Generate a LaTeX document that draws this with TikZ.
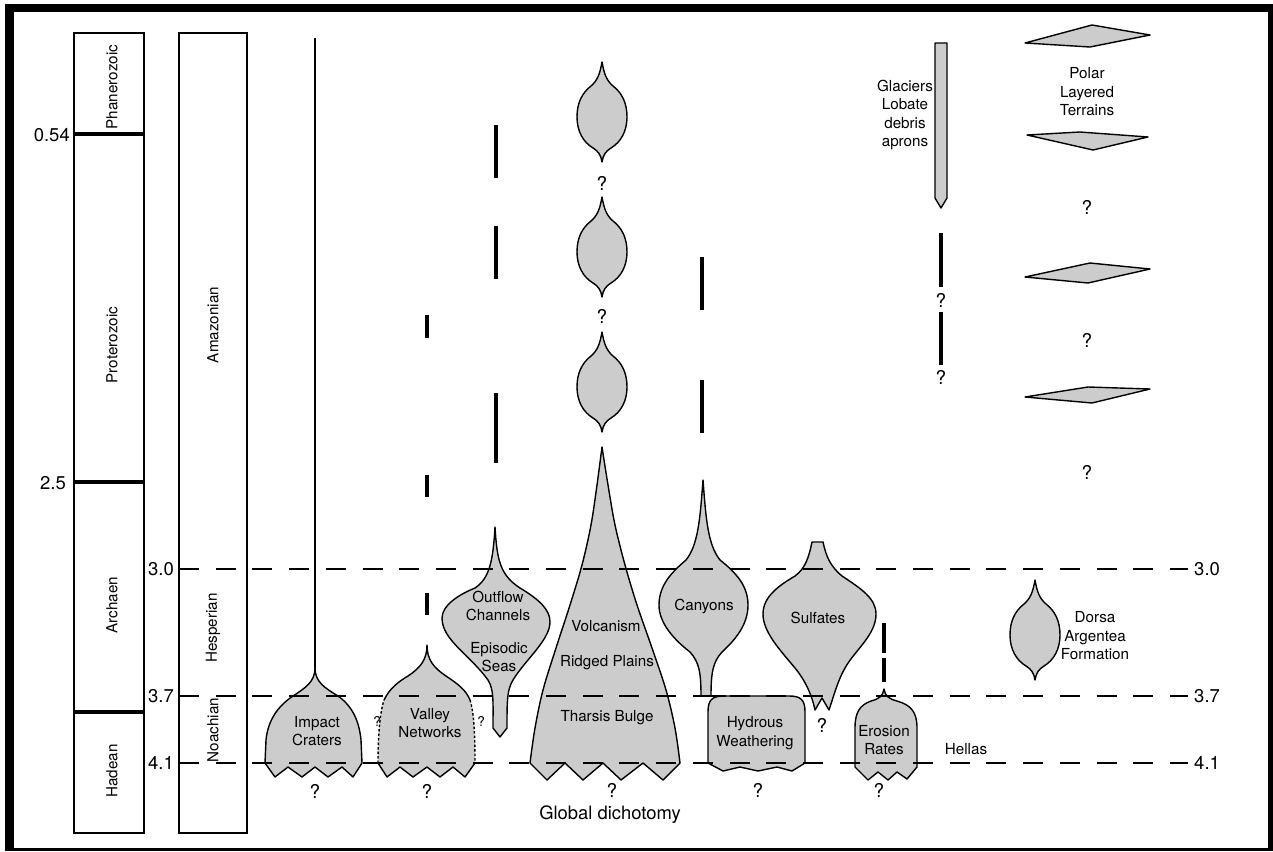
\documentclass[tikz,border=0pt]{standalone}
\usepackage{fontspec}
\setmainfont{TeX Gyre Heros}
\definecolor{gfill}{RGB}{204,204,204}
\begin{document}
\begin{tikzpicture}[x=1pt,y=-1pt,
  blob/.style={fill=gfill,draw=black,line width=1.4pt,line join=round},
  colbox/.style={draw=black,line width=1.5pt},
  era/.style={line width=3.3pt},
  ticklbl/.style={font=\fontsize{18.5}{20}\selectfont,inner sep=0pt},
  lbl/.style={font=\fontsize{15.2}{18.5}\selectfont,align=center,inner sep=0pt},
  rot/.style={lbl,rotate=90},
  qm/.style={font=\fontsize{19}{20}\selectfont,inner sep=0pt},
  sqm/.style={font=\fontsize{13.5}{14}\selectfont,inner sep=0pt},
  agedash/.style={line width=1.8pt,dash pattern=on 20pt off 16.7pt},
  vbar/.style={line width=3.5pt},
  lemon/.pic={\filldraw[blob] (0,0) .. controls (2,11) and (4,18) .. (11,24)
     .. controls (20,31) and (25,41) .. (25,55)
     .. controls (25,69) and (19,80) .. (9,86)
     .. controls (4,89) and (1,93) .. (0,100)
     .. controls (-1,93) and (-4,89) .. (-9,86)
     .. controls (-19,80) and (-25,69) .. (-25,55)
     .. controls (-25,41) and (-20,31) .. (-11,24)
     .. controls (-4,18) and (-2,11) .. (0,0) -- cycle;},
]
\useasboundingbox (0,0) rectangle (1273,851);
\fill[white] (0,0) rectangle (1273,851);
% frame
\fill[black] (5,4) rectangle (1273,12);
\fill[black] (5,4) rectangle (14,850);
\fill[black] (1268,4) rectangle (1273,850);
\fill[black] (5,848) rectangle (1273,850.5);

% Earth column
\draw[colbox] (74,33) rectangle (144,833);
\draw[era] (74,134) -- (144,134);
\draw[era] (74,482) -- (144,482);
\draw[era] (74,712) -- (144,712);
\node[rot] (phan) at (112,87) {Phanerozoic};
\node[rot] (prot) at (112,345) {Proterozoic};
\node[rot] (arch) at (112,605) {Archaen};
\node[rot] (hade) at (112,771) {Hadean};
\node[ticklbl,anchor=east] (t054) at (70,135) {0.54};
\node[ticklbl,anchor=east] (t25) at (66,483) {2.5};

% Mars column
\draw[colbox] (179,33) rectangle (247,833);
\node[rot] (amaz) at (213,325) {Amazonian};
\node[rot] (hesp) at (213,628) {Hesperian};
\node[rot] (noac) at (213,730) {Noachian};
\node[ticklbl,anchor=east] (l30) at (174,569) {3.0};
\node[ticklbl,anchor=east] (l37) at (174,696) {3.7};
\node[ticklbl,anchor=east] (l41) at (174,763) {4.1};
\node[ticklbl,anchor=west] (r30) at (1194,569) {3.0};
\node[ticklbl,anchor=west] (r37) at (1194,696) {3.7};
\node[ticklbl,anchor=west] (r41) at (1194,763) {4.1};

% Impact craters
\coordinate (icTop) at (315,38);
\coordinate (icPeak) at (315,668);
\draw[line width=2.2pt] (icTop) -- (icPeak);
\filldraw[blob] (315,668) .. controls (315,682) and (305,688) .. (293,696)
  .. controls (278,706) and (268,720) .. (266,740) -- (265,763)
  -- (275,777) -- (288,767) -- (302,777) -- (315,767) -- (328,777) -- (342,767) -- (353,777) -- (362,763)
  -- (361,740) .. controls (359,720) and (352,706) .. (338,696)
  .. controls (325,688) and (315,682) .. (315,668) -- cycle;
\node[lbl] (ic) at (317,731) {Impact\\Craters};
\node[qm] (icq) at (315,791) {?};

% Valley networks
\fill[gfill] (427,645) .. controls (427,660) and (434,668) .. (446,676)
  .. controls (458,684) and (466,690) .. (470,700)
  .. controls (474,712) and (475,735) .. (475,763)
  -- (465,777) -- (453,767) -- (440,777) -- (427,767) -- (413,777) -- (400,767) -- (387,777) -- (378,763)
  .. controls (378,735) and (380,712) .. (384,700)
  .. controls (390,688) and (398,682) .. (408,676)
  .. controls (420,668) and (427,660) .. (427,645) -- cycle;
\draw[line width=1.4pt,line join=round] (384,700) .. controls (390,688) and (398,682) .. (408,676)
  .. controls (420,668) and (427,660) .. (427,645)
  .. controls (427,660) and (434,668) .. (446,676)
  .. controls (458,684) and (466,690) .. (470,700);
\draw[line width=1.4pt,dash pattern=on 2.5pt off 2pt] (470,700) .. controls (474,712) and (475,735) .. (475,763);
\draw[line width=1.4pt,dash pattern=on 2.5pt off 2pt] (378,763) .. controls (378,735) and (380,712) .. (384,700);
\draw[line width=1.4pt,line join=round] (475,763) -- (465,777) -- (453,767) -- (440,777) -- (427,767) -- (413,777) -- (400,767) -- (387,777) -- (378,763);
\node[lbl] (vn) at (430,723) {Valley\\Networks};
\node[qm] (vnq) at (427,791) {?};
\node[sqm] (vnql) at (377,721) {?};
\node[sqm] (vnqr) at (481,721) {?};
\draw[vbar] (427,315) -- (427,338);
\draw[vbar] (427,475) -- (427,497);
\draw[vbar] (427,593) -- (427,615);

% Outflow channels
\filldraw[blob] (495,527) .. controls (497,560) and (500,575) .. (520,588)
  .. controls (540,600) and (550,610) .. (550,622)
  .. controls (550,640) and (525,660) .. (513,680)
  .. controls (507,690) and (507,700) .. (507,728)
  -- (500,737) -- (493,728)
  .. controls (493,700) and (494,690) .. (488,680)
  .. controls (470,655) and (442,640) .. (442,618)
  .. controls (442,605) and (460,594) .. (475,588)
  .. controls (490,578) and (493,560) .. (495,527) -- cycle;
\node[lbl] (oc) at (498,606) {Outflow\\Channels};
\node[lbl] (es) at (499,657) {Episodic\\Seas};
\draw[vbar] (496,125) -- (496,178);
\draw[vbar] (496,226) -- (496,279);
\draw[vbar] (496,393) -- (496,463);

% Volcanism
\pic at (602,62) {lemon};
\pic at (602,197) {lemon};
\pic at (602,332) {lemon};
\node[qm] (vq1) at (602,183) {?};
\node[qm] (vq2) at (602,316) {?};
\filldraw[blob] plot[smooth,tension=0.55] coordinates {(602,447) (597,485) (591,525) (582,565) (570,605) (556,648) (543,690) (535,728) (530,763)}
  -- (547,780) -- (565,763) -- (583,780) -- (603,763) -- (621,780) -- (643,763) -- (663,780) -- (680,763)
  -- plot[smooth,tension=0.55] coordinates {(680,763) (675,728) (666,690) (652,648) (637,605) (625,565) (615,525) (608,485) (602,447)} -- cycle;
\node[lbl] (vol) at (606,626) {Volcanism};
\node[lbl] (rp) at (607,663) {Ridged Plains};
\node[lbl] (tb) at (607,718) {Tharsis Bulge};
\node[qm] (vq3) at (612,790) {?};
\node[font=\fontsize{18.4}{20}\selectfont,inner sep=0pt] (gd) at (610,815) {Global dichotomy};

% Canyons
\filldraw[blob] (703,480) .. controls (706,520) and (708,545) .. (720,560)
  .. controls (735,572) and (748,585) .. (748,605)
  .. controls (748,625) and (735,640) .. (722,652)
  .. controls (713,662) and (711,672) .. (711,696) -- (701,696)
  .. controls (701,672) and (699,662) .. (690,652)
  .. controls (672,638) and (659,622) .. (659,605)
  .. controls (659,585) and (672,572) .. (686,560)
  .. controls (698,545) and (700,520) .. (703,480) -- cycle;
\node[lbl] (can) at (704,606) {Canyons};
\draw[vbar] (702,257) -- (702,310);
\draw[vbar] (702,380) -- (702,433);

% Hydrous weathering
\filldraw[blob] (708,763) -- (708,712) .. controls (708,700) and (712,696) .. (724,696)
  -- (789,696) .. controls (801,696) and (805,700) .. (805,712) -- (805,763)
  -- (792,771) -- (777,767) -- (758,771) -- (740,767) -- (723,771) -- cycle;
\draw[line width=1.4pt] (701,696) -- (726,696);
\node[lbl] (hw) at (755,733) {Hydrous\\Weathering};
\node[qm] (hwq) at (758,790) {?};

% Sulfates
\filldraw[blob] (812,542) -- (823,542) .. controls (826,556) and (830,566) .. (842,576)
  .. controls (860,588) and (876,598) .. (876,614)
  .. controls (876,635) and (855,650) .. (845,668)
  .. controls (838,680) and (834,695) .. (829,710) -- (822,698) -- (815,710)
  .. controls (812,695) and (805,680) .. (795,668)
  .. controls (780,650) and (763,632) .. (763,614)
  .. controls (763,596) and (780,585) .. (795,576)
  .. controls (806,568) and (809,556) .. (812,542) -- cycle;
\node[lbl] (sul) at (818,618) {Sulfates};
\node[qm] (sulq) at (822,725) {?};

% Erosion rates
\filldraw[blob] (884,689) .. controls (885,696) and (889,699) .. (897,701)
  .. controls (911,705) and (917,712) .. (917,728) -- (917,767)
  -- (907,779) -- (897,772) -- (888,780) -- (878,772) -- (868,780) -- (855,767)
  -- (855,728) .. controls (855,712) and (860,705) .. (871,701)
  .. controls (879,699) and (883,696) .. (884,689) -- cycle;
\node[lbl] (er) at (884,740) {Erosion\\Rates};
\node[qm] (erq) at (879,790) {?};
\draw[vbar] (884,623) -- (884,653);
\draw[vbar] (884,658) -- (884,682);
\node[lbl] (hel) at (966,749) {Hellas};

% Dorsa Argentea
\pic at (1035,580) {lemon};
\node[lbl] (dor) at (1095,636) {Dorsa\\Argentea\\Formation};

% Glaciers
\filldraw[blob] (935,43) -- (947,43) -- (947,198) -- (941,208) -- (935,198) -- cycle;
\node[lbl] (gla) at (905,115) {Glaciers\\Lobate\\debris\\aprons};
\draw[vbar] (941,233) -- (941,287);
\draw[vbar] (941,312) -- (941,365);
\node[qm] (gq1) at (941,300) {?};
\node[qm] (gq2) at (941,377) {?};

% Polar layered terrains
\filldraw[blob] (1025,43) -- (1092,25) -- (1150,35) -- (1090,47) -- cycle;
\filldraw[blob] (1027,135) -- (1080,132) -- (1148,137) -- (1093,150) -- cycle;
\filldraw[blob] (1025,277) -- (1090,263) -- (1150,269) -- (1088,283) -- cycle;
\filldraw[blob] (1025,397) -- (1088,387) -- (1150,389) -- (1092,403) -- cycle;
\node[lbl] (pol) at (1087,92) {Polar\\Layered\\Terrains};
\node[qm] (pq1) at (1087,207) {?};
\node[qm] (pq2) at (1087,340) {?};
\node[qm] (pq3) at (1087,472) {?};

% age lines
\draw[agedash] (179,569) -- (1188,569);
\draw[agedash] (179,696) -- (1188,696);
\draw[agedash] (179,763) -- (1188,763);
\end{tikzpicture}
\end{document}
